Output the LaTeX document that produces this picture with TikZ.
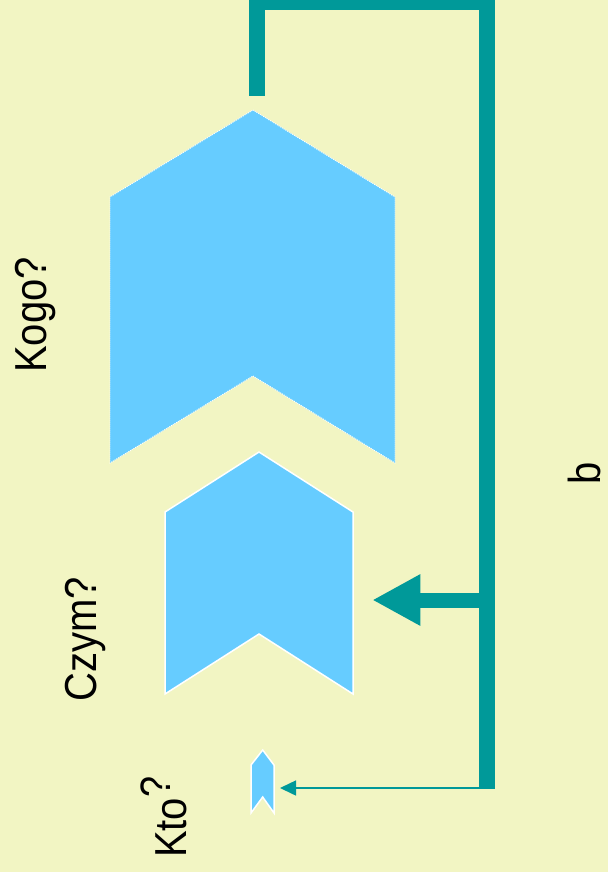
\documentclass[tikz,border=0pt]{standalone}
\usepackage{fontspec}
\setmainfont{Liberation Sans}
\usetikzlibrary{arrows.meta}
\definecolor{paper}{RGB}{242,245,195}
\definecolor{teal}{RGB}{0,153,153}
\definecolor{sky}{RGB}{102,204,255}
\tikzset{
  label text/.style={rotate=90, anchor=base west, inner sep=0pt, font=\fontsize{40}{48}\selectfont, text=black},
  chevron/.style={fill=sky, draw=white, line width=1.5pt, line join=miter},
  thin chevron/.style={fill=sky, draw=white, line width=0.9pt, dash pattern=on 1pt off 1pt},
  bus/.style={draw=teal, line width=16pt, line join=miter, line cap=butt},
  big arrow/.style={draw=teal, line width=15pt, -{Triangle[length=48pt,width=48pt]}},
  small arrow/.style={draw=teal, line width=1.5pt, -{Triangle[length=16pt,width=15pt]}}
}
\newcommand{\tallish}[1]{\scalebox{1}[1.12]{#1}}
\begin{document}
\begin{tikzpicture}[x=1pt, y=-1pt]
  \useasboundingbox (0,0) rectangle (608,872);
  \fill[paper] (0,0) rectangle (608,872);
  \clip (0,0) rectangle (608,872);

  % large chevron
  \path[thin chevron] (253,110) -- (395,197) -- (395,463) -- (253,376) -- (110,463) -- (110,197) -- cycle;
  % middle chevron
  \path[chevron] (259,452) -- (353,512) -- (353,694) -- (259,634) -- (165,694) -- (165,512) -- cycle;
  % small chevron
  \path[chevron] (262.7,750) -- (274,765) -- (274,813) -- (262.7,797) -- (251,813) -- (251,765) -- cycle;

  % feedback bus
  \coordinate (busStart) at (257,96);
  \coordinate (busTopL) at (257,2);
  \coordinate (busTopR) at (487,2);
  \coordinate (busEnd) at (487,789.3);
  \draw[bus] (busStart) -- (busTopL) -- (busTopR) -- (busEnd);

  % branches into the chevrons
  \coordinate (midTap) at (487,600);
  \coordinate (midTip) at (372.3,600);
  \draw[big arrow] (midTap) -- (midTip);
  \coordinate (lowTap) at (487,788);
  \coordinate (lowTip) at (280,788);
  \draw[small arrow] (lowTap) -- (lowTip);

  % labels
  \node[label text] (kogo) at (46,373) {\tallish{Kogo?}};
  \node[label text] (czym) at (96.5,702) {\tallish{Czym?}};
  \node[label text] (kto) at (186.5,858) {\tallish{Kto\raisebox{14.5pt}{\scalebox{0.95}{?}}}};
  \node[label text] (bee) at (600,485) {\tallish{b}};
\end{tikzpicture}
\end{document}
